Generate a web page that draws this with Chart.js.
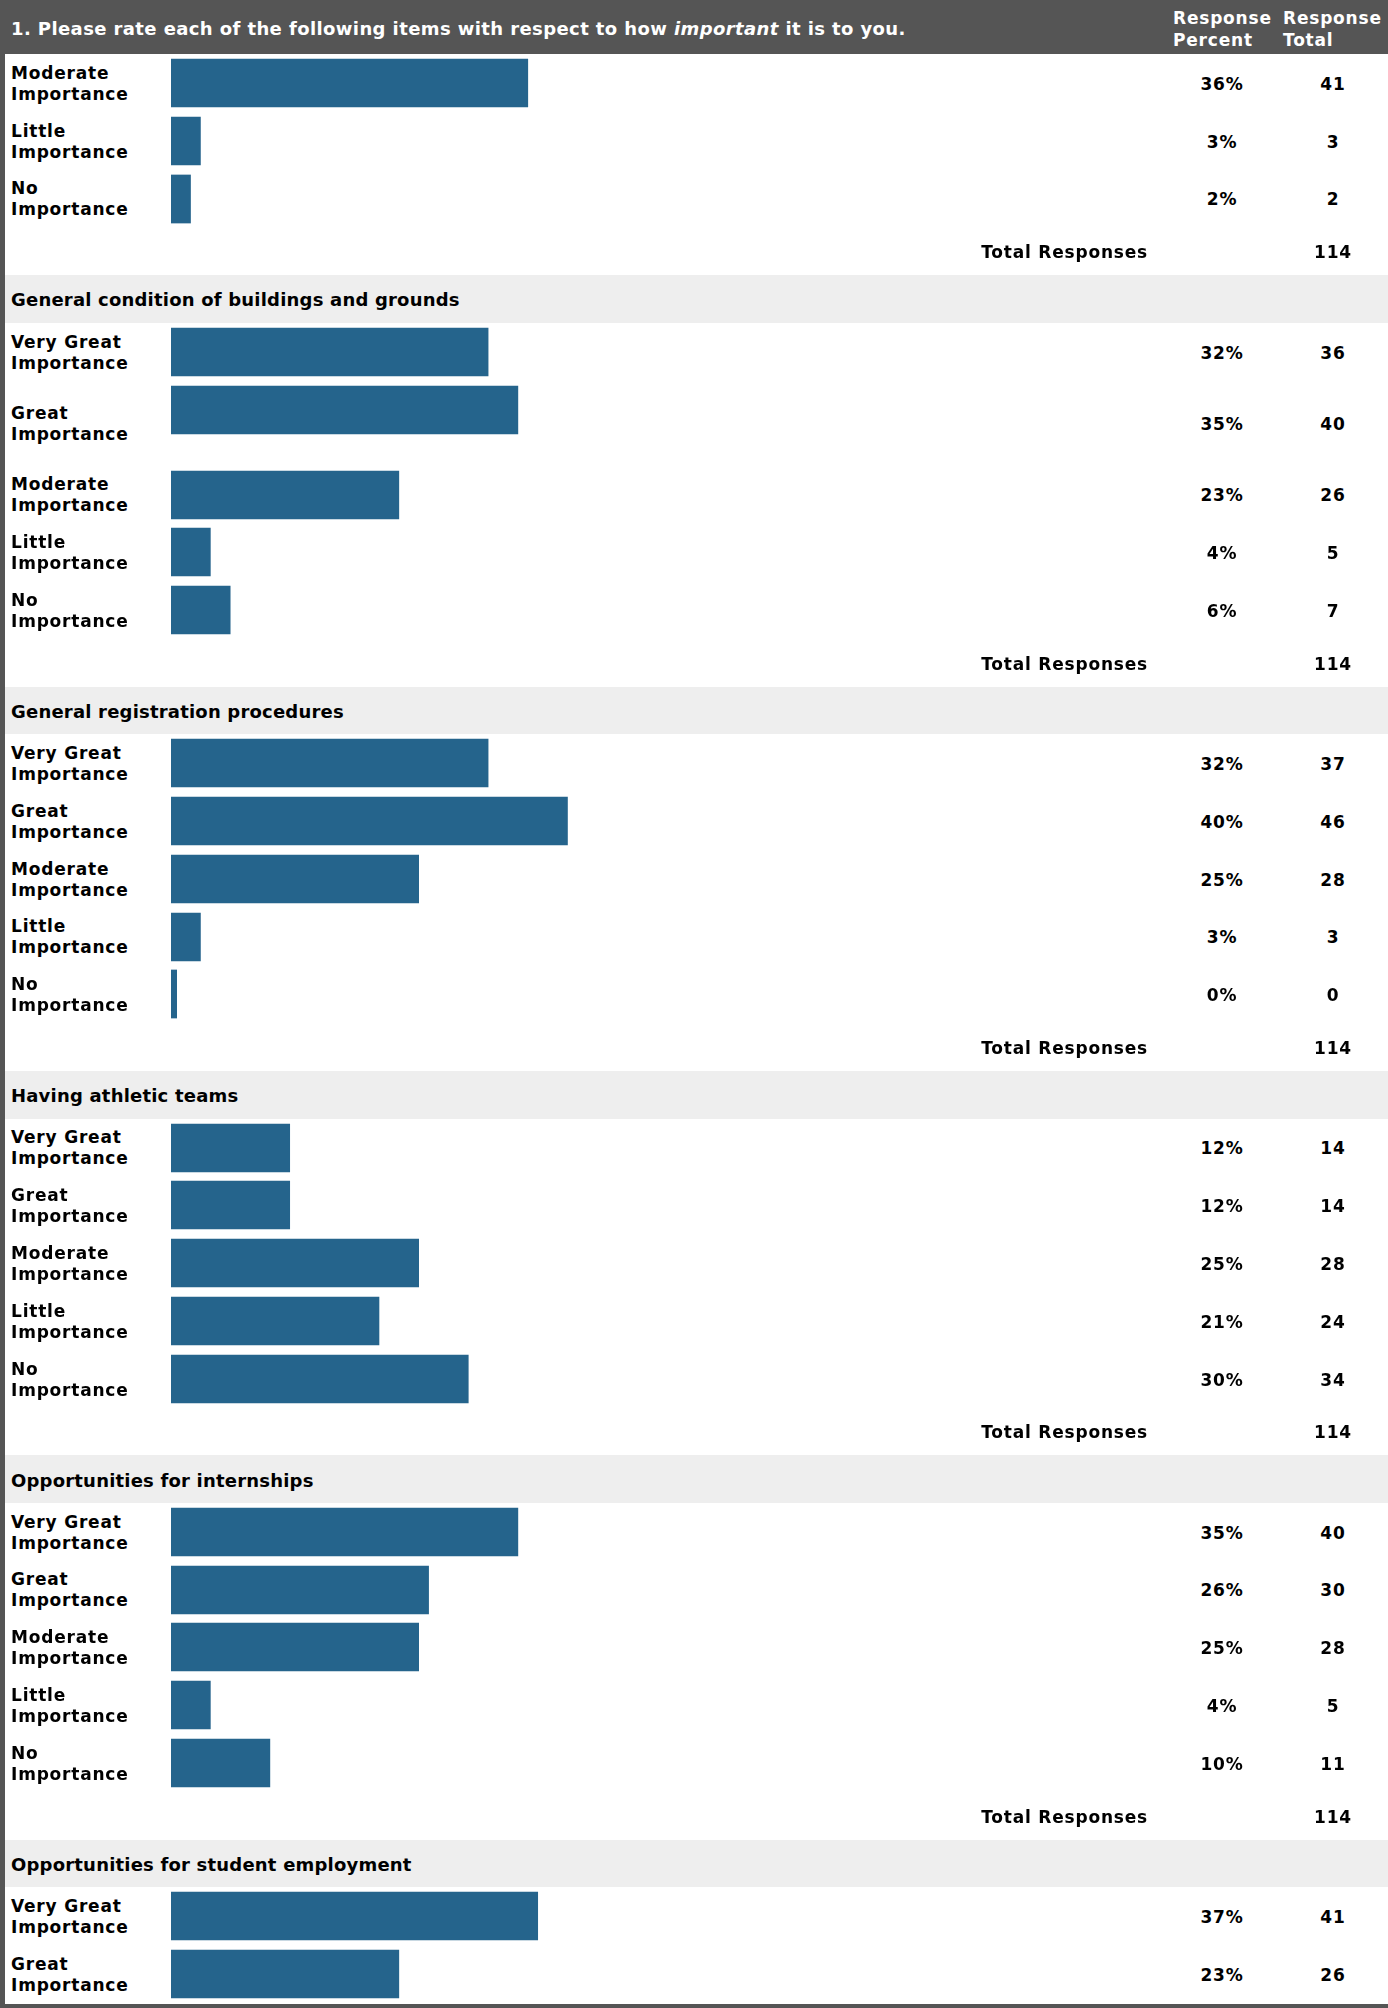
<!DOCTYPE html>
<html>
<head>
<meta charset="utf-8">
<title>Importance ratings</title>
<script src="https://cdn.jsdelivr.net/npm/chart.js@4.4.1/dist/chart.umd.min.js"></script>
<style>
  html, body { margin: 0; padding: 0; background: #fff; }
  body { font-family: "DejaVu Sans", Verdana, sans-serif; font-weight: bold; color: #000; }
  #page { position: relative; width: 1383px; height: 2008px; border-left: 5px solid #555; overflow: hidden; }
  #head { position: absolute; left: -5px; top: 0; width: 1388px; height: 54px; background: #555; color: #fff; }
  #head .q { position: absolute; left: 11px; top: 0; height: 54px; padding-top: 2px; box-sizing: border-box; display: flex; align-items: center; font-size: 18px; letter-spacing: 0.4px; }
  #head .col { position: absolute; top: 8px; font-size: 17px; line-height: 21.5px; letter-spacing: 0.8px; }
  .band, .row, .total { position: absolute; left: 0; width: 1383px; }
  .band { background: #eee; display: flex; align-items: center; padding: 2px 0 0 6px; box-sizing: border-box; font-size: 18px; letter-spacing: 0.2px; }
  .row .lbl { position: absolute; left: 6px; top: 0; bottom: 0; width: 150px; padding-top: 2px; box-sizing: border-box; display: flex; align-items: center; font-size: 17px; line-height: 21px; letter-spacing: 0.8px; }
  .row canvas { position: absolute; left: 166px; top: 0; }
  .pct, .cnt { position: absolute; top: 0; bottom: 0; padding-top: 2px; box-sizing: border-box; display: flex; align-items: center; justify-content: center; font-size: 17px; letter-spacing: 0.8px; }
  .pct { left: 1158px; width: 118px; }
  .cnt { left: 1276px; width: 104px; }
  .total .tr { position: absolute; right: 240px; top: 0; bottom: 0; padding-top: 2px; box-sizing: border-box; display: flex; align-items: center; font-size: 17px; letter-spacing: 0.8px; }
  #foot { position: absolute; left: -5px; top: 2004px; width: 1388px; height: 4px; background: #555; }
</style>
</head>
<body>
<div id="page">
  <div id="head">
    <div class="q">1. Please rate each of the following items with respect to how&nbsp;<i>important</i>&nbsp;it is to you.</div>
    <div class="col" style="left:1173px">Response<br>Percent</div>
    <div class="col" style="left:1283px">Response<br>Total</div>
  </div>
  <div id="foot"></div>
</div>
<script>
// rating scale, top to bottom
var levels = ['Very Great Importance', 'Great Importance', 'Moderate Importance', 'Little Importance', 'No Importance'];

// items (the first block continues an item whose title is above the crop)
var items = [
    '',
    'General condition of buildings and grounds',
    'General registration procedures',
    'Having athletic teams',
    'Opportunities for internships',
    'Opportunities for student employment'
];
var firstLevel = [2, 0, 0, 0, 0, 0]; // first visible level of each block

var percents = [
    [36, 3, 2],
    [32, 35, 23, 4, 6],
    [32, 40, 25, 3, 0],
    [12, 12, 25, 21, 30],
    [35, 26, 25, 4, 10],
    [37, 23]
];
var counts = [
    [41, 3, 2],
    [36, 40, 26, 5, 7],
    [37, 46, 28, 3, 0],
    [14, 14, 28, 24, 34],
    [40, 30, 28, 5, 11],
    [41, 26]
];
var totals = [114, 114, 114, 114, 114, null];

// layout
var HEADER_H = 54, BAND_H = 47.5, ROW_H = 57.8, TOTAL_H = 47.8, TALL_H = 85;
var tallRow = { block: 1, row: 1 }; // this row is taller in the survey page
var BAR_COLOR = '#25648c';

var page = document.getElementById('page');
var y = HEADER_H;

function block(cls, h) {
    var d = document.createElement('div');
    d.className = cls;
    d.style.top = y + 'px';
    d.style.height = h + 'px';
    page.appendChild(d);
    y += h;
    return d;
}

function cell(parent, cls, text) {
    var d = document.createElement('div');
    d.className = cls;
    d.textContent = text;
    parent.appendChild(d);
    return d;
}

function rowChart(canvas, label, value) {
    return new Chart(canvas.getContext('2d'), {
        type: 'bar',
        data: {
            labels: [label],
            datasets: [{
                data: [value],
                backgroundColor: BAR_COLOR,
                borderWidth: 0,
                barPercentage: 0.84,
                categoryPercentage: 1,
                minBarLength: 6
            }]
        },
        options: {
            indexAxis: 'y',
            responsive: false,
            animation: false,
            events: [],
            layout: { padding: 0 },
            plugins: { legend: { display: false }, tooltip: { enabled: false } },
            scales: {
                x: { min: 0, max: 100, display: false },
                y: { display: false }
            }
        }
    });
}

items.forEach(function(title, s) {
    if (title) {
        block('band', BAND_H).textContent = title;
    }
    percents[s].forEach(function(p, i) {
        var label = levels[firstLevel[s] + i];
        var h = (s === tallRow.block && i === tallRow.row) ? TALL_H : ROW_H;
        var row = block('row', h);
        cell(row, 'lbl', label);
        var cv = document.createElement('canvas');
        cv.width = 992;
        cv.height = 58;
        row.appendChild(cv);
        cell(row, 'pct', p + '%');
        cell(row, 'cnt', counts[s][i]);
        rowChart(cv, label, p);
    });
    if (totals[s] != null) {
        var t = block('total', TOTAL_H);
        cell(t, 'tr', 'Total Responses');
        cell(t, 'cnt', totals[s]);
    }
});
</script>
</body>
</html>
